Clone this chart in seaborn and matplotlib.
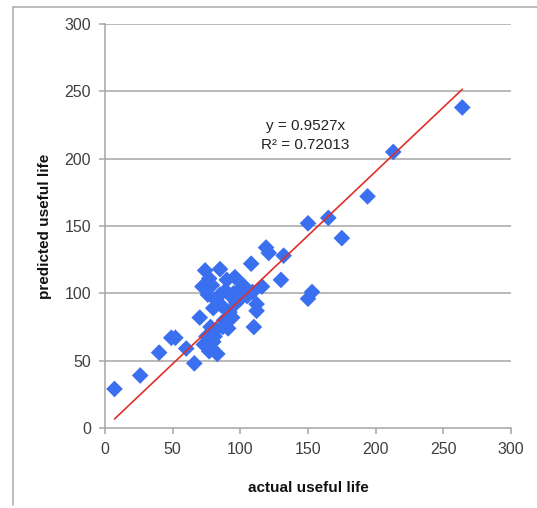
import numpy as np
import pandas as pd
import matplotlib
matplotlib.use("Agg")
import matplotlib.pyplot as plt
import seaborn as sns
from matplotlib.lines import Line2D

actual = [7, 26, 40, 49, 52, 60, 66, 70, 72, 74, 77, 79, 85, 90, 96,
          73, 75, 77, 80, 83, 82, 81, 78, 87, 91, 94, 92, 80, 86, 82,
          85, 89, 94, 95, 99, 104, 97, 102, 108, 109, 112, 112, 110, 116,
          119, 121, 132, 130, 150, 153, 150, 165, 175, 194, 213, 264,
          88, 100, 105, 76]
predicted = [29, 39, 56, 67, 67, 59, 48, 82, 105, 117, 111, 106, 118, 110, 112,
             62, 68, 57, 64, 55, 73, 68, 75, 75, 74, 82, 86, 89, 91, 95,
             99, 102, 97, 100, 102, 102, 93, 106, 122, 101, 92, 87, 75, 105,
             134, 130, 128, 110, 96, 101, 152, 156, 141, 172, 205, 238,
             80, 96, 98, 99]
slope = 0.9527
r2_text = "R² = 0.72013"
eq_text = "y = 0.9527x"
x_ticks = [0, 50, 100, 150, 200, 250, 300]
y_ticks = [0, 50, 100, 150, 200, 250, 300]

df = pd.DataFrame({"actual useful life": actual, "predicted useful life": predicted})

sns.set_style("white")
plt.rcParams['font.family'] = ['Liberation Sans', 'DejaVu Sans']

fig = plt.figure(figsize=(5.37, 5.08), dpi=100)
ax = fig.add_axes([105/537, 80/508, 406/537, 404/508])

for t in y_ticks[1:]:
    ax.axhline(t, color="#a6a6a6", lw=1.1, zorder=0)

sns.scatterplot(data=df, x="actual useful life", y="predicted useful life",
                marker="D", s=72, color="#3a6ff0", edgecolor="none",
                ax=ax, zorder=3)

xl = np.array([min(actual), max(actual)])
ax.plot(xl, slope * xl, color="#e0302a", lw=1.2, zorder=4)

ax.text(148, 224, eq_text, ha="center", va="center", fontsize=11, color="#222222")
ax.text(148, 210, r2_text, ha="center", va="center", fontsize=11, color="#222222")

ax.set_xlim(0, 300)
ax.set_ylim(0, 300)
ax.set_xticks(x_ticks)
ax.set_yticks(y_ticks)
ax.tick_params(axis="both", labelsize=11.5, labelcolor="#404040", color="#a6a6a6",
               length=4, width=1.1, direction="out", bottom=True, left=True, pad=6)
for s in ["top", "right"]:
    ax.spines[s].set_visible(False)
for s in ["left", "bottom"]:
    ax.spines[s].set_color("#a6a6a6")
    ax.spines[s].set_linewidth(1.1)

ax.set_xlabel("actual useful life", fontsize=11, fontweight="bold", labelpad=17, color="#111111")
ax.set_ylabel("predicted useful life", fontsize=11, fontweight="bold", labelpad=9, color="#111111")

fig.add_artist(Line2D([13/537, 13/537], [3/508, 1 - 7/508], color="#b0b0b0", lw=1.2,
                      transform=fig.transFigure))
fig.add_artist(Line2D([13/537, 1.0], [1 - 7/508, 1 - 7/508], color="#b0b0b0", lw=1.2,
                      transform=fig.transFigure))

fig.savefig("out.png", dpi=100)
